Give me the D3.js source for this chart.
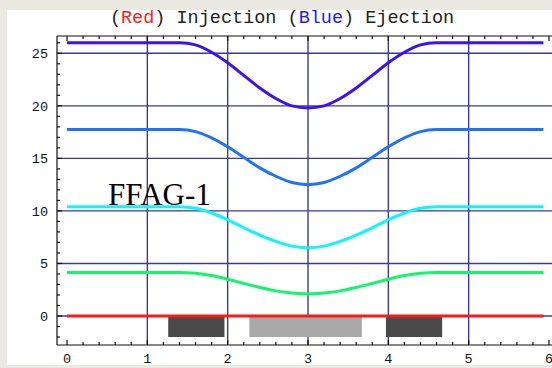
<!DOCTYPE html>
<html>
<head>
<meta charset="utf-8">
<script src="https://cdn.jsdelivr.net/npm/d3@7"></script>
<style>
  body { margin: 0; background: #e9e9e2; }
  svg { display: block; }
</style>
</head>
<body>
<svg id="chart" width="552" height="368"></svg>
<script>
// Injection / ejection orbit chart (FFAG-1)

const xs = [0, 1.4, 1.6, 1.8, 2.0, 2.2, 2.4, 2.6, 2.8, 3.0, 3.2, 3.4, 3.6, 3.8, 4.0, 4.2, 4.4, 4.6, 5.93];
const purple = [26, 26, 25.8, 25.1, 24.1, 22.9, 21.7, 20.7, 20.0, 19.8, 20.0, 20.7, 21.7, 22.9, 24.1, 25.1, 25.8, 26, 26];
const blue = [17.75, 17.75, 17.55, 16.95, 16.1, 15.1, 14.1, 13.3, 12.7, 12.5, 12.7, 13.3, 14.1, 15.1, 16.1, 16.95, 17.55, 17.75, 17.75];
const cyan = [10.4, 10.4, 10.25, 9.8, 9.15, 8.4, 7.7, 7.1, 6.65, 6.5, 6.65, 7.1, 7.7, 8.4, 9.15, 9.8, 10.25, 10.4, 10.4];
const green = [4.15, 4.15, 4.07, 3.85, 3.5, 3.1, 2.72, 2.39, 2.18, 2.1, 2.18, 2.39, 2.72, 3.1, 3.5, 3.85, 4.07, 4.15, 4.15];
const red = [0, 0, 0, 0, 0, 0, 0, 0, 0, 0, 0, 0, 0, 0, 0, 0, 0, 0, 0];

const seriesNames = ["purple", "blue", "cyan", "green", "red"];
const seriesValues = [purple, blue, cyan, green, red];
const seriesColors = ["#3c12f4", "#1f72ff", "#10f4ff", "#14f46c", "#ff1818"];

// magnet blocks under the axis (from 0 down to -2)
const blockStart = [1.26, 2.27, 3.97];
const blockEnd = [1.96, 3.67, 4.67];
const blockColor = ["#4a4a4a", "#a8a8a8", "#4a4a4a"];

const xTicks = [0, 1, 2, 3, 4, 5, 6];
const yTicks = [0, 5, 10, 15, 20, 25];

const svg = d3.select("#chart");

const x = d3.scaleLinear().domain([0, 6]).range([67, 549]);
const y = d3.scaleLinear().domain([0, 25]).range([316, 53.3]);

const frameLeft = 57, frameTop = 36, frameBottom = 345, frameRight = 560;

// white panel
svg.append("rect")
  .attr("x", 7).attr("y", 10)
  .attr("width", 560).attr("height", 355)
  .attr("fill", "#fff");

// Title
const title = svg.append("text")
  .attr("x", 282)
  .attr("y", 23)
  .attr("text-anchor", "middle")
  .style("font-family", "'Liberation Mono', 'DejaVu Sans Mono', monospace")
  .style("font-size", "18.5px")
  .attr("fill", "#222");
title.append("tspan").text("(");
title.append("tspan").attr("fill", "#ff2020").text("Red");
title.append("tspan").text(") Injection (");
title.append("tspan").attr("fill", "#1a1aff").text("Blue");
title.append("tspan").text(") Ejection");

const g = svg.append("g");

// Grid
g.selectAll("line.hgrid")
  .data(yTicks)
  .join("line")
  .attr("class", "hgrid")
  .attr("x1", frameLeft).attr("x2", frameRight)
  .attr("y1", d => y(d)).attr("y2", d => y(d))
  .attr("stroke", "#3a3a98")
  .attr("stroke-width", 1.4);

g.selectAll("line.vgrid")
  .data([1, 2, 3, 4, 5])
  .join("line")
  .attr("class", "vgrid")
  .attr("x1", d => x(d)).attr("x2", d => x(d))
  .attr("y1", frameTop).attr("y2", frameBottom)
  .attr("stroke", "#3a3a98")
  .attr("stroke-width", 1.4);

// Blocks
g.selectAll("rect.block")
  .data(blockStart)
  .join("rect")
  .attr("class", "block")
  .attr("x", d => x(d))
  .attr("width", (d, i) => x(blockEnd[i]) - x(d))
  .attr("y", y(0) + 1)
  .attr("height", y(-2) - y(0) - 1)
  .attr("fill", (d, i) => blockColor[i]);

// Curves
const line = d3.line()
  .x((d, i) => x(xs[i]))
  .y(d => y(d))
  .curve(d3.curveMonotoneX);

g.selectAll("path.orbit")
  .data(seriesValues)
  .join("path")
  .attr("class", "orbit")
  .attr("fill", "none")
  .attr("stroke", (d, i) => seriesColors[i])
  .attr("stroke-width", 3)
  .attr("d", d => line(d));

// Frame with ticks
const frame = g.append("g").attr("stroke", "#111").attr("stroke-width", 1.2);
frame.append("line").attr("x1", frameLeft).attr("x2", frameRight).attr("y1", frameTop).attr("y2", frameTop);
frame.append("line").attr("x1", frameLeft).attr("x2", frameRight).attr("y1", frameBottom).attr("y2", frameBottom);
frame.append("line").attr("x1", frameLeft).attr("x2", frameLeft).attr("y1", frameTop).attr("y2", frameBottom);

const xMinor = d3.range(0, 6.01, 0.2);
const isMajor = d => Math.abs(d - Math.round(d)) < 1e-6;
frame.selectAll("line.xt")
  .data(xMinor)
  .join("line")
  .attr("class", "xt")
  .attr("x1", d => x(d)).attr("x2", d => x(d))
  .attr("y1", frameBottom)
  .attr("y2", d => frameBottom - (isMajor(d) ? 5 : 3));
frame.selectAll("line.xtt")
  .data(xMinor)
  .join("line")
  .attr("class", "xtt")
  .attr("x1", d => x(d)).attr("x2", d => x(d))
  .attr("y1", frameTop)
  .attr("y2", d => frameTop + (isMajor(d) ? 5 : 3));

const yMinor = d3.range(-2, 27, 1);
frame.selectAll("line.yt")
  .data(yMinor)
  .join("line")
  .attr("class", "yt")
  .attr("y1", d => y(d)).attr("y2", d => y(d))
  .attr("x1", frameLeft)
  .attr("x2", d => frameLeft + (d % 5 === 0 ? 5 : 3));

// Tick labels
g.selectAll("text.xl")
  .data(xTicks)
  .join("text")
  .attr("class", "xl")
  .attr("x", d => x(d))
  .attr("y", 363)
  .attr("text-anchor", "middle")
  .style("font-family", "'Liberation Mono', monospace")
  .style("font-size", "13.5px")
  .attr("fill", "#111")
  .text(d => d);

g.selectAll("text.yl")
  .data(yTicks)
  .join("text")
  .attr("class", "yl")
  .attr("x", 48)
  .attr("y", d => y(d) + 5)
  .attr("text-anchor", "end")
  .style("font-family", "'Liberation Mono', monospace")
  .style("font-size", "13.5px")
  .attr("fill", "#111")
  .text(d => d);

// Label
svg.append("text")
  .attr("x", 108)
  .attr("y", 205)
  .style("font-family", "'Liberation Serif', 'Times New Roman', serif")
  .style("font-size", "31px")
  .attr("fill", "#000")
  .text("FFAG-1");
</script>
</body>
</html>
